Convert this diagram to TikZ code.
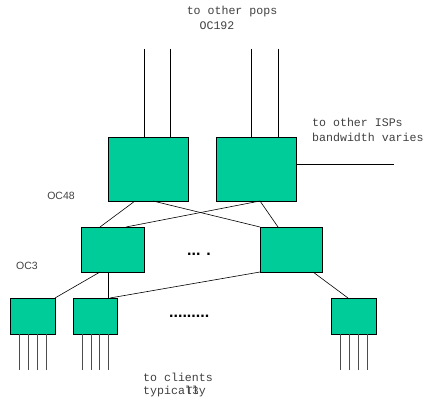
\documentclass[tikz,border=0pt]{standalone}
\usepackage{fontspec}
\setmainfont{Liberation Sans}
\newfontfamily\monof{Liberation Mono}
\begin{document}
\begin{tikzpicture}[x=1pt,y=-1pt,
  router/.style={draw=black, fill={rgb,255:red,0;green,204;blue,153}, line width=0.8pt},
  link/.style={draw=black, line width=0.6pt},
  leg/.style={draw=black!70, line width=0.7pt},
  mono/.style={font=\monof\fontsize{11.6}{12}\selectfont, text=black!75, inner sep=0pt},
  sans/.style={font=\fontsize{10.5}{12}\selectfont, text=black!75, inner sep=0pt},
  dots/.style={font=\bfseries\fontsize{16}{16}\selectfont, inner sep=0pt}]
\useasboundingbox (0,0) rectangle (433,398);
% top routers
\draw[router] (108,137) rectangle (188,201);
\draw[router] (216,137) rectangle (296,201);
% mid routers
\draw[router] (81,227) rectangle (144,272);
\draw[router] (260,227) rectangle (322,272);
% bottom routers
\draw[router] (10,298) rectangle (55,334);
\draw[router] (73,298) rectangle (117,334);
\draw[router] (331,298) rectangle (376,334);
% uplinks
\foreach \x in {144,170,251,278} \draw[link] (\x,49) -- (\x,137);
\draw[link] (296,164) -- (394,164);
% top-to-mid links
\draw[link] (135,201) -- (100,227);
\draw[link] (153,201) -- (260,227);
\draw[link] (260,201) -- (126,227);
\draw[link] (260,201) -- (278,227);
% mid-to-bottom links
\draw[link] (100,272) -- (55,298);
\draw[link] (108,272) -- (108,298);
\draw[link] (260,272) -- (110,298);
\draw[link] (313,272) -- (348,298);
% legs
\foreach \x in {19,28,37,46,82,91,99,108,340,349,358,367} \draw[leg] (\x,334) -- (\x,370);
% labels
\node[mono] (t1) at (232,12) {to other pops};
\node[mono] (t2) at (217,26) {OC192};
\node[mono, anchor=west] (t3) at (312,122) {to other ISPs};
\node[mono, anchor=west] (t4) at (312,137) {bandwidth varies};
\node[sans] (oc48) at (61,196) {OC48};
\node[sans] (oc3) at (27,266) {OC3};
\node[dots, anchor=base west] (d1) at (187,255) {... .};
\node[dots, anchor=base west] (d2) at (169,317) {.........};
\node[mono, anchor=west] (b1) at (143,377) {to clients};
\node[mono, anchor=west] (b2) at (143,391) {typically};
\node[sans, anchor=west] (b3) at (186,391) {T3};
\end{tikzpicture}
\end{document}
